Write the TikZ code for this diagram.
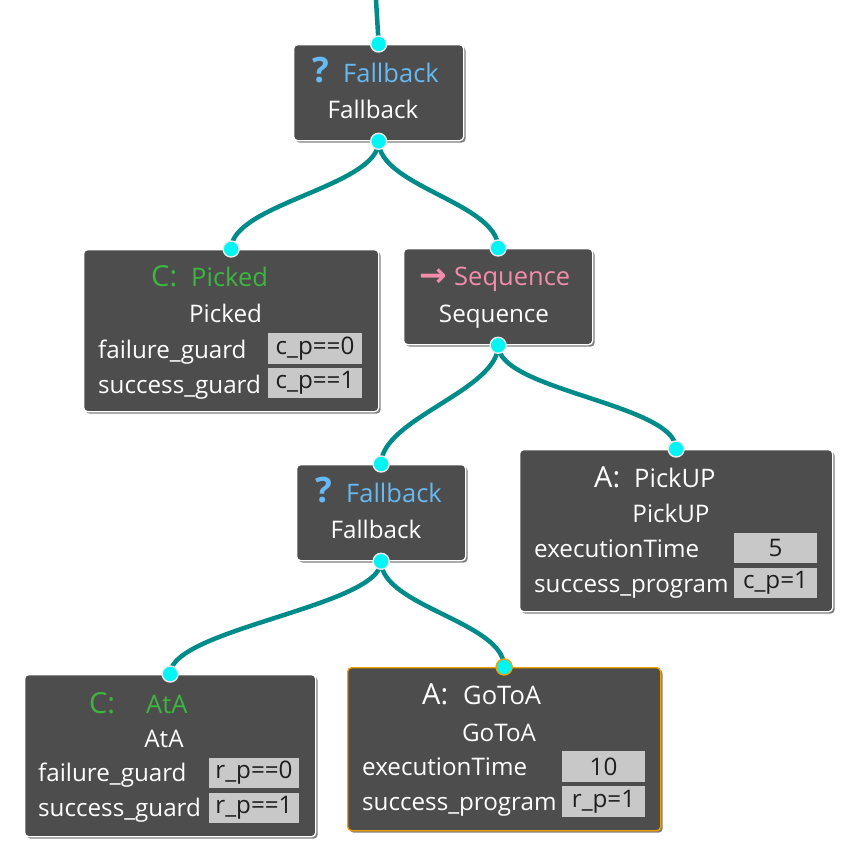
\documentclass[tikz,border=0pt]{standalone}
\usepackage{fontspec}
\setmainfont{Open Sans}
\newfontfamily\symfont{DejaVu Sans}
\usetikzlibrary{shadows}
\definecolor{boxgray}{HTML}{4D4D4D}
\definecolor{qblue}{HTML}{66B9F2}
\definecolor{seqpink}{HTML}{F28DAB}
\definecolor{condgreen}{HTML}{3DB540}
\definecolor{edgeteal}{HTML}{008B8B}
\definecolor{portcyan}{HTML}{00F5F5}
\definecolor{valgray}{HTML}{C8C8C8}
\definecolor{valtext}{HTML}{1E1E1E}
\definecolor{selorange}{HTML}{F0A000}
\newcommand\bdfont{\fontsize{24.2}{28}\selectfont}
\newcommand\ttlfont{\fontsize{25.5}{30}\selectfont}
\newcommand\kdfont{\fontsize{29}{30}\selectfont}
\newcommand\qfont{\fontsize{35}{36}\selectfont\bfseries}
\newcommand\arfont{\symfont\fontsize{33}{34}\selectfont\bfseries}
\tikzset{
  treebox/.style={draw=white, line width=1.3pt, fill=boxgray, rounded corners=4pt,
    anchor=north west, inner sep=0pt,
    drop shadow={shadow xshift=2pt, shadow yshift=-2pt, opacity=0.5, fill=black}},
  port/.style={circle, fill=portcyan, draw=white!92!black, line width=1.4pt,
    minimum size=16pt, inner sep=0pt},
  edge/.style={draw=edgeteal, line width=4.5pt},
  txt/.style={inner sep=0pt, text=white},
  lbl/.style={txt, anchor=base west, font=\bdfont},
  sub/.style={txt, anchor=base, font=\bdfont},
  val/.style={fill=valgray, text=valtext, inner sep=0pt, font=\bdfont}
}
\begin{document}
\begin{tikzpicture}[x=1pt, y=-1pt]
\useasboundingbox (0,0) rectangle (847,855);
\fill[white] (0,0) rectangle (847,855);
% boxes
\node[treebox, minimum width=170pt, minimum height=96pt] (fb1) at (293,44) {};
\node[treebox, minimum width=295pt, minimum height=162pt] (pk) at (83,249) {};
\node[treebox, minimum width=189pt, minimum height=96pt] (sq) at (403,248) {};
\node[treebox, minimum width=169pt, minimum height=96pt] (fb2) at (296,464) {};
\node[treebox, minimum width=313pt, minimum height=162pt] (pu) at (519,449) {};
\node[treebox, minimum width=291pt, minimum height=162pt] (ata) at (24,674) {};
\node[treebox, draw=selorange, minimum width=313pt, minimum height=163pt] (go) at (347,667) {};
% connectors
\coordinate (topend) at (376,0);
\draw[edge] (topend) -- (fb1.north);
\draw[edge] (fb1.south) .. controls +(0,45) and +(0,-45) .. (pk.north);
\draw[edge] (fb1.south) .. controls +(0,45) and +(0,-45) .. (sq.north);
\draw[edge] (sq.south) .. controls +(0,45) and +(0,-45) .. (fb2.north);
\draw[edge] (sq.south) .. controls +(0,45) and +(0,-45) .. (pu.north);
\draw[edge] (fb2.south) .. controls +(0,45) and +(0,-45) .. (ata.north);
\draw[edge] (fb2.south) .. controls +(0,45) and +(0,-45) .. (go.north);
% ports
\node[port] (fb1in) at (fb1.north) {};
\node[port] (fb1out) at (fb1.south) {};
\node[port] (pkin) at (pk.north) {};
\node[port] (sqin) at (sq.north) {};
\node[port] (sqout) at (sq.south) {};
\node[port] (fb2in) at (fb2.north) {};
\node[port] (fb2out) at (fb2.south) {};
\node[port] (puin) at (pu.north) {};
\node[port] (atain) at (ata.north) {};
\node[port, draw=selorange] (goin) at (go.north) {};
% Fallback 1
\node[txt, anchor=base west, text=qblue] (fb1q) at (312,82) {\qfont ?};
\node[txt, anchor=base west, text=qblue] (fb1t) at (343,82) {\ttlfont Fallback};
\node[sub] (fb1s) at (373,118) {Fallback};
% Picked
\node[txt, anchor=base west, text=condgreen] (pkk) at (151,286) {\kdfont C:};
\node[txt, anchor=base west, text=condgreen] (pkt) at (191,286) {\ttlfont Picked};
\node[sub] (pks) at (225.5,322) {Picked};
\node[lbl] (pkl1) at (98,358) {failure\_guard};
\node[lbl] (pkl2) at (98,393) {success\_guard};
\node[val, minimum width=94pt, minimum height=31pt] (pkv1) at (315,348.5) {c\_p==0};
\node[val, minimum width=94pt, minimum height=30pt] (pkv2) at (315,383) {c\_p==1};
% Sequence
\node[txt, anchor=base west, text=seqpink] (sqa) at (419,286) {\arfont →};
\node[txt, anchor=base west, text=seqpink] (sqt) at (454,285) {\ttlfont Sequence};
\node[sub] (sqs) at (494,322) {Sequence};
% Fallback 2
\node[txt, anchor=base west, text=qblue] (fb2q) at (315,502) {\qfont ?};
\node[txt, anchor=base west, text=qblue] (fb2t) at (346,502) {\ttlfont Fallback};
\node[sub] (fb2s) at (376,538) {Fallback};
% PickUP
\node[txt, anchor=base west] (puk) at (594,487) {\kdfont A:};
\node[txt, anchor=base west] (put) at (634,487) {\ttlfont PickUP};
\node[sub] (pus) at (671,522) {PickUP};
\node[lbl] (pul1) at (534,557) {executionTime};
\node[lbl] (pul2) at (534,592) {success\_program};
\node[val, minimum width=83pt, minimum height=30pt] (puv1) at (775.5,548) {5};
\node[val, minimum width=83pt, minimum height=30pt] (puv2) at (775.5,583) {c\_p=1};
% AtA
\node[txt, anchor=base west, text=condgreen] (atak) at (89,713) {\kdfont C:};
\node[txt, anchor=base west, text=condgreen] (atat) at (146,713) {\ttlfont AtA};
\node[sub] (atas) at (164,747) {AtA};
\node[lbl] (atal1) at (38,781) {failure\_guard};
\node[lbl] (atal2) at (38,816) {success\_guard};
\node[val, minimum width=90pt, minimum height=30pt] (atav1) at (254,773) {r\_p==0};
\node[val, minimum width=90pt, minimum height=30pt] (atav2) at (254,808) {r\_p==1};
% GoToA
\node[txt, anchor=base west] (gok) at (422,704) {\kdfont A:};
\node[txt, anchor=base west] (got) at (463,704) {\ttlfont GoToA};
\node[sub] (gos) at (499,741) {GoToA};
\node[lbl] (gol1) at (362,775) {executionTime};
\node[lbl] (gol2) at (362,810) {success\_program};
\node[val, minimum width=83pt, minimum height=31pt] (gov1) at (603.5,766.5) {10};
\node[val, minimum width=83pt, minimum height=31pt] (gov2) at (603.5,801.5) {r\_p=1};
\end{tikzpicture}
\end{document}
